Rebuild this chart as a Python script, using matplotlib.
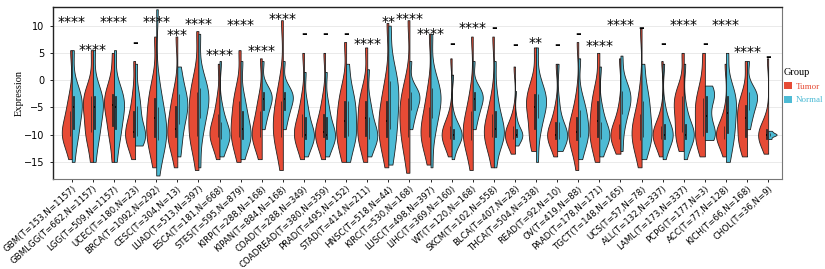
import numpy as np
import matplotlib
matplotlib.use('Agg')
import matplotlib.pyplot as plt
from matplotlib.patches import Patch

red = '#E64B35'
blue = '#4DBBD5'

cancers = ['GBM', 'GBMLGG', 'LGG', 'UCEC', 'BRCA', 'CESC', 'LUAD', 'ESCA', 'STES', 'KIRP',
           'KIPAN', 'COAD', 'COADREAD', 'PRAD', 'STAD', 'HNSC', 'KIRC', 'LUSC', 'LIHC', 'WT',
           'SKCM', 'BLCA', 'THCA', 'READ', 'OV', 'PAAD', 'TGCT', 'UCS', 'ALL', 'LAML',
           'PCPG', 'ACC', 'KICH', 'CHOL']
n_tumor = [153, 662, 509, 180, 1092, 304, 513, 181, 595, 288,
           884, 288, 380, 495, 414, 518, 530, 498, 369, 120,
           102, 407, 504, 92, 419, 178, 148, 57, 132, 173,
           177, 77, 66, 36]
n_normal = [1157, 1157, 1157, 23, 292, 13, 397, 668, 879, 168,
            168, 349, 359, 152, 211, 44, 168, 397, 160, 168,
            558, 28, 338, 10, 88, 171, 165, 78, 337, 337,
            3, 128, 168, 9]

sig_labels = ['****', '****', '****', '-', '****', '***', '****', '****', '****', '****',
              '****', '-', '-', '-', '****', '**', '****', '****', '-', '****',
              '-', '-', '**', '-', '-', '****', '****', '-', '-', '****',
              '-', '****', '****', '-']
sig_y = [11.5, 6.4, 11.5, 6.9, 11.5, 9.1, 11.2, 5.5, 11.0, 6.25,
         12.1, 8.4, 8.4, 8.4, 7.5, 11.5, 12.1, 9.4, 6.6, 10.4,
         9.6, 6.5, 7.7, 6.4, 8.4, 7.2, 11.0, 9.6, 6.6, 11.0,
         6.7, 11.0, 6.1, 4.3]

# approximate quantiles (min, p10 ... p90, max)
N_brain = [-15, -11, -10, -8, -6.5, -5, -4.5, -3.5, -2.5, -1, 5.5]
N_kidney = [-9, -7, -6, -5, -4, -3.5, -3, -2.5, -2, -1, 3.5]
N_lung = [-16, -10, -8, -6, -4.5, -3.5, -3, -2, -1, 1, 8.5]
N_blood = [-14.5, -12, -11, -10.5, -10, -10, -9.5, -8.5, -7.5, -5, 3]
N_colon = [-14, -12, -11, -10.5, -10, -10, -9, -7.5, -6, -4, 1.5]

tumor_q = [
    [-14.5, -11.5, -10.5, -10, -10, -9.5, -8, -6.5, -5, -3, 5.5],
    [-15, -11, -10, -9, -7, -5, -4.5, -3.5, -2.5, -1, 5.5],
    [-15, -10.5, -9.5, -7.5, -5.5, -4.5, -4, -3, -2, 0, 5],
    [-14.5, -12, -11, -10, -10, -9.5, -8, -6.5, -5, -2, 3.5],
    [-16, -12.5, -11, -10, -9, -7, -5.5, -4, -2.5, 0, 8],
    [-16, -12.5, -11, -10, -10, -9, -7, -5.5, -4, -2, 8],
    [-16.5, -12, -10.5, -10, -8, -6, -4.5, -3, -1.5, 1, 9],
    [-14.5, -12, -11, -10, -10, -9.5, -8.5, -7, -5.5, -3, 3],
    [-15, -12, -11, -10, -9, -7.5, -6, -4.5, -3, -1, 5.5],
    [-14.5, -12, -11, -10, -10, -9.5, -8, -6.5, -5, -3, 4],
    [-16.5, -12.5, -11, -10, -9, -7.5, -6, -4.5, -3, 0, 11],
    [-14.5, -12, -11, -10, -10, -9.5, -8.5, -7, -5.5, -3, 5],
    [-14.5, -12, -11, -10, -10, -9.5, -8.5, -7, -5.5, -3, 5],
    [-15, -12.5, -11, -10, -9, -7.5, -6, -4.5, -3, -1, 7],
    [-15, -12, -10.5, -10, -9, -7, -5.5, -4.5, -3, -1, 6],
    [-16, -12.5, -11, -10, -9, -7.5, -6, -4.5, -3, 0, 10.5],
    [-17, -12.5, -11, -10, -8, -6, -5, -4, -2.5, 0, 11],
    [-15.5, -12.5, -11, -10, -10, -9, -7.5, -6, -4, -1.5, 8.5],
    [-14, -12, -11, -10.5, -10, -10, -9.5, -9, -8, -6, 4],
    [-16.5, -13, -11.5, -10.5, -10, -9, -8, -6.5, -5, -2, 8],
    [-16, -12.5, -11, -10, -10, -9.5, -8.5, -7, -5.5, -3, 8],
    [-13.5, -12, -11, -10.5, -10, -10, -9.5, -9, -8, -6, 2.5],
    [-13, -11, -10, -8, -6, -5, -4, -3, -2, 0, 6],
    [-14, -12, -11, -10.5, -10, -10, -9.5, -8.5, -7, -5, 3],
    [-16.5, -13, -11.5, -10.5, -10, -9.5, -8.5, -7.5, -6, -3, 7],
    [-15, -12.5, -11, -10, -9, -7.5, -6, -4.5, -3, -1, 5],
    [-13.5, -12, -11, -10.5, -10, -10, -9.5, -8.5, -7.5, -5, 4],
    [-16, -13, -11.5, -10.5, -10, -9.5, -8.5, -7, -5.5, -2, 9.5],
    [-14, -12, -11, -10.5, -10, -10, -9.5, -9, -8, -6, 3.5],
    [-13, -11, -10, -9, -7, -5.5, -4.5, -3.5, -2.5, -1, 5],
    [-14, -11.5, -10.5, -10, -8, -6, -5, -4, -2.5, 0, 5],
    [-14, -12, -11, -10.5, -10, -10, -9.5, -9, -8, -6, 3],
    [-14, -12, -11, -10, -8.5, -7, -6, -5, -4, -2, 3.5],
    [-13.5, -12, -11, -10.5, -10, -10, -9.8, -9.5, -8.5, -7, 4],
]
normal_q = [
    N_brain, N_brain, N_brain,
    [-12, -11, -10.5, -10, -10, -9, -7, -5.5, -4, -2, 3],
    [-17.5, -13, -11.5, -10.5, -10, -9, -7.5, -6, -4, -1, 13],
    [-14, -11, -9, -7, -6, -5, -4, -3, -2, 0, 2.5],
    N_lung,
    [-14, -12, -11, -10.5, -10, -10, -9.5, -8.5, -7, -5, 3.5],
    [-14.5, -12, -11, -10.5, -10, -9, -8, -6.5, -5, -3, 3.5],
    N_kidney, N_kidney, N_colon, N_colon,
    [-15, -12, -10.5, -10, -8.5, -7, -5.5, -4.5, -3, -1, 3],
    [-14, -12, -11, -10.5, -10, -10, -9, -7.5, -6, -4, 2],
    [-15.5, -12, -10, -8, -6, -4, -2.5, -1, 0.5, 3, 10],
    N_kidney, N_lung,
    [-14.5, -12, -11, -10.5, -10, -10, -10, -9.5, -8.5, -7, 1],
    N_kidney,
    [-16, -12, -11, -10, -10, -9, -8, -6.5, -5, -2, 3.5],
    [-12, -11, -10.5, -10.2, -10, -10, -9.8, -9.5, -8.5, -7, -2],
    [-15, -10, -8, -6, -5, -4, -3.5, -3, -2, 0, 6],
    [-13, -11.5, -11, -10.5, -10, -10, -9.5, -8.5, -7, -4, 3],
    [-14.5, -12, -11, -10, -9.5, -8.5, -7, -6, -5, -3, 4],
    [-14, -12, -11, -10.5, -10, -10, -9.5, -8.5, -7, -5, 2.5],
    [-13, -9, -7, -5.5, -4.5, -3.5, -3, -2.5, -1.5, 0, 4.5],
    [-14.5, -12, -11, -10, -9, -7.5, -6, -4.5, -3, -1, 3],
    N_blood, N_blood,
    [-1, -2.5, -3.5, -6.5, -9, -10, -11],
    [-15, -12, -10.5, -9, -7.5, -6, -4.5, -3.5, -2.5, -1, 5],
    N_kidney,
    [-10.8, -10.3, -10, -10, -9.7, -9.3],
]
width_t = [0.95] * len(cancers)
width_n = [0.95] * len(cancers)
width_n[21] = 0.7
width_n[33] = 0.8

labels = [f'{c}(T={t},N={n})' for c, t, n in zip(cancers, n_tumor, n_normal)]
pos = np.arange(len(cancers))

fig = plt.figure(figsize=(8.25, 2.69), dpi=100)
ax = fig.add_axes([0.064, 0.3335, 0.884, 0.64])


def half_violins(data, widths, side, color):
    parts = ax.violinplot(data, positions=pos, widths=widths, showextrema=False,
                          bw_method=0.45, points=200)
    for i, body in enumerate(parts['bodies']):
        verts = body.get_paths()[0].vertices
        if side == 'left':
            verts[:, 0] = np.minimum(verts[:, 0], pos[i])
        else:
            verts[:, 0] = np.maximum(verts[:, 0], pos[i])
        body.set_facecolor(color)
        body.set_edgecolor('#222222')
        body.set_linewidth(0.6)
        body.set_alpha(1)
        body.set_zorder(2)


half_violins(tumor_q, width_t, 'left', red)
half_violins(normal_q, width_n, 'right', blue)

box_kw = dict(widths=0.02, showfliers=False, patch_artist=True, showcaps=False,
              whis=0, manage_ticks=False, zorder=3,
              boxprops=dict(facecolor='#333333', edgecolor='#222222', linewidth=0.5),
              whiskerprops=dict(linewidth=0),
              medianprops=dict(color='black', linewidth=1.2))
ax.boxplot(tumor_q, positions=pos - 0.08, **box_kw)
ax.boxplot(normal_q, positions=pos + 0.08, **box_kw)

for x, s, y in zip(pos, sig_labels, sig_y):
    if s == '-':
        ax.text(x, y, '-', ha='center', va='center', fontsize=10, fontweight='bold')
    else:
        ax.text(x, y - 0.9, s, ha='center', va='center', fontsize=10)

ax.set_xlim(-0.9, len(cancers) - 0.34)
ax.set_ylim(-18.2, 13.4)
ax.set_yticks([-15, -10, -5, 0, 5, 10])
ax.yaxis.grid(True, color='#e6e6e6', linewidth=0.6)
ax.set_axisbelow(True)
ax.set_xticks(pos)
ax.set_xticklabels(labels, rotation=42, ha='right', rotation_mode='anchor', fontsize=6.2)
ax.tick_params(axis='y', labelsize=7, length=2.5, width=0.6)
ax.tick_params(axis='x', length=2.5, width=0.6, pad=1)
ax.set_ylabel('Expression', family='Liberation Serif', fontsize=7.5, labelpad=0)
for side in ['left', 'top']:
    ax.spines[side].set_color('#222222')
    ax.spines[side].set_linewidth(1.0)
for side in ['right', 'bottom']:
    ax.spines[side].set_color('#777777')
    ax.spines[side].set_linewidth(0.8)

handles = [Patch(facecolor=red, edgecolor='none'), Patch(facecolor=blue, edgecolor='none')]
fig.legend(handles, ['Tumor', 'Normal'], title='Group', loc='upper left',
           bbox_to_anchor=(0.948, 0.755), frameon=False, labelcolor=[red, blue],
           prop={'family': 'Liberation Serif', 'size': 6.5},
           title_fontproperties={'family': 'Liberation Serif', 'size': 7.5},
           handlelength=0.9, handleheight=0.9, handletextpad=0.4, labelspacing=0.55,
           borderpad=0.2, borderaxespad=0, alignment='left')

fig.savefig('out.png', dpi=100)
